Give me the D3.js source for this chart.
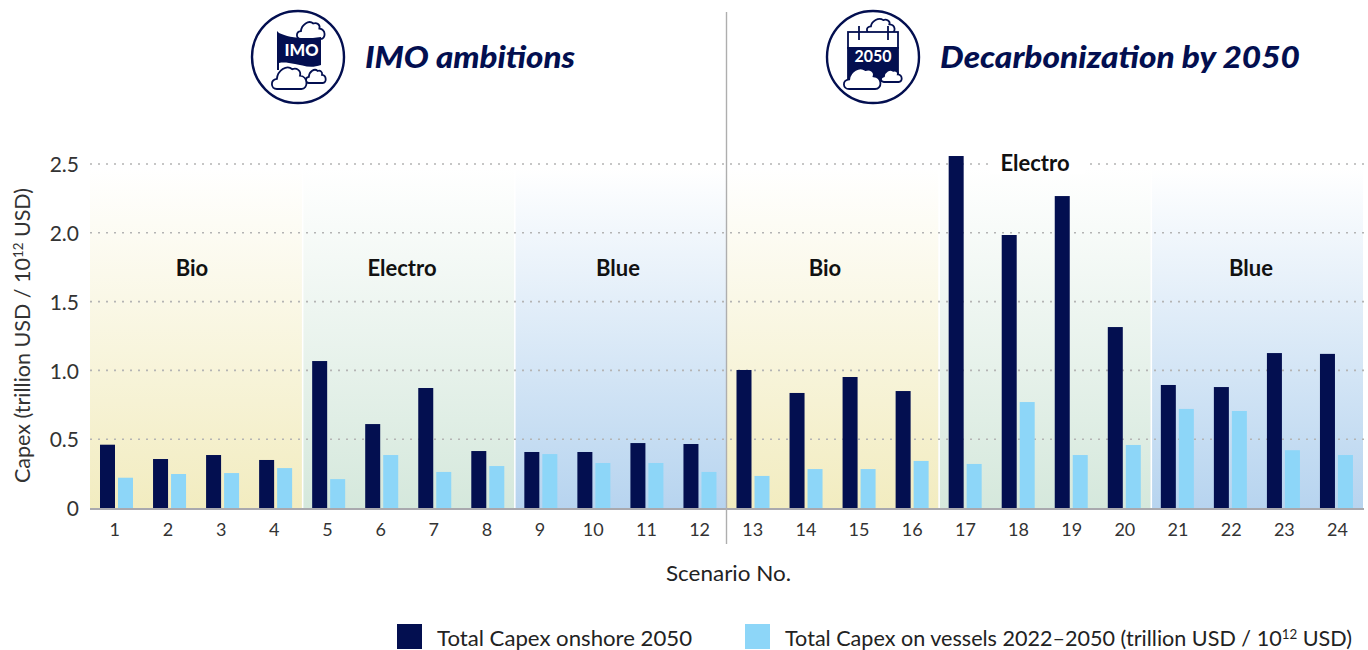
<!DOCTYPE html>
<html>
<head>
<meta charset="utf-8">
<script src="https://cdn.jsdelivr.net/npm/d3@7"></script>
<style>
  html, body { margin: 0; padding: 0; background: #fff; }
  text { font-family: Lato, "Open Sans", sans-serif; }
</style>
</head>
<body>
<div id="chart"></div>
<script>
// data
const scenarios = d3.range(1, 25).map(String);
const onshore = [0.46, 0.356, 0.385, 0.349, 1.068, 0.61, 0.872, 0.414, 0.407, 0.407, 0.472, 0.465,
  1.003, 0.836, 0.952, 0.85, 2.558, 1.984, 2.267, 1.315, 0.894, 0.879, 1.126, 1.12];
const vessels = [0.22, 0.247, 0.254, 0.29, 0.21, 0.385, 0.262, 0.305, 0.392, 0.327, 0.327, 0.262,
  0.233, 0.283, 0.283, 0.342, 0.32, 0.77, 0.385, 0.458, 0.72, 0.705, 0.42, 0.385];
const yTicks = [0, 0.5, 1, 1.5, 2, 2.5];
const groupNames = ["Bio", "Electro", "Blue", "Bio", "Electro", "Blue"];
const groupFirst = ["1", "5", "9", "13", "17", "21"];
const groupLast = ["4", "8", "12", "16", "20", "24"];
const groupKinds = ["bio", "electro", "blue", "bio", "electro", "blue"];
const seriesKeys = ["onshore", "vessels"];

const width = 1368, height = 650;
const navy = "#030f50", sky = "#8dd6f8";
const left = 90, right = 1363, y0 = 508, yTop = 164;

const svg = d3.select("#chart").append("svg")
  .attr("width", width).attr("height", height)
  .style("display", "block");

// scales
const x = d3.scaleBand().domain(scenarios).range([left, right]);
const xSub = d3.scaleBand().domain(seriesKeys).range([10, 43]).paddingInner(3 / 18);
const xLabel = d3.scalePoint().domain(scenarios).range([114.3, 1337]);
const y = d3.scaleLinear().domain([0, 2.5]).range([y0, yTop]);
const kindColor = d3.scaleOrdinal().domain(["bio", "electro", "blue"]).range(["#f2ecc0", "#d5e8dc", "#b7d4ef"]);

// gradients for the background bands
const defs = svg.append("defs");
kindColor.domain().forEach(k => {
  const g = defs.append("linearGradient").attr("id", "grad-" + k)
    .attr("x1", 0).attr("y1", 0).attr("x2", 0).attr("y2", 1);
  g.append("stop").attr("offset", "0%").attr("stop-color", "#fff");
  g.append("stop").attr("offset", "100%").attr("stop-color", kindColor(k));
});

// background bands
svg.append("g").selectAll("rect")
  .data(groupNames)
  .join("rect")
  .attr("x", (d, i) => x(groupFirst[i]))
  .attr("y", 168)
  .attr("width", (d, i) => x(groupLast[i]) + x.bandwidth() - x(groupFirst[i]))
  .attr("height", y0 - 168)
  .attr("fill", (d, i) => `url(#grad-${groupKinds[i]})`)
  .attr("stroke", "none");

// thin white gaps between the bands
svg.append("g").selectAll("line")
  .data(groupFirst.filter(d => d !== "1" && d !== "13"))
  .join("line")
  .attr("x1", d => x(d) + 0.5).attr("x2", d => x(d) + 0.5)
  .attr("y1", 168).attr("y2", y0)
  .attr("stroke", "#fff").attr("stroke-width", 1.5);

// dotted grid
svg.append("g").selectAll("line")
  .data(yTicks.filter(d => d > 0))
  .join("line")
  .attr("x1", left).attr("x2", 1364)
  .attr("y1", d => y(d)).attr("y2", d => y(d))
  .attr("stroke", "#b4b4b4").attr("stroke-width", 1.6)
  .attr("stroke-dasharray", "2 6");

// white patch behind the Electro label that sits on the top gridline
svg.append("rect")
  .attr("x", 990).attr("y", 150).attr("width", 95).attr("height", 24)
  .attr("fill", "#fff");

// bars
const barGroups = svg.append("g").selectAll("g")
  .data(scenarios)
  .join("g")
  .attr("transform", d => `translate(${x(d)},0)`);

barGroups.append("rect")
  .attr("x", xSub("onshore"))
  .attr("y", (d, i) => y(onshore[i]))
  .attr("width", xSub.bandwidth())
  .attr("height", (d, i) => y0 - y(onshore[i]))
  .attr("fill", navy);

barGroups.append("rect")
  .attr("x", xSub("vessels"))
  .attr("y", (d, i) => y(vessels[i]))
  .attr("width", xSub.bandwidth())
  .attr("height", (d, i) => y0 - y(vessels[i]))
  .attr("fill", sky);

// group labels
const labelX = [192, 402, 618, 825, 1035, 1251];
const labelY = [276, 276, 276, 276, 171, 276];

svg.append("g").selectAll("text")
  .data(groupNames)
  .join("text")
  .attr("x", (d, i) => labelX[i])
  .attr("y", (d, i) => labelY[i])
  .attr("text-anchor", "middle")
  .attr("font-size", 22)
  .attr("font-weight", 700)
  .attr("fill", "#111")
  .text(d => d);

// x axis
const xAxis = svg.append("g")
  .attr("transform", `translate(0,${y0})`)
  .call(d3.axisBottom(xLabel).tickSize(0).tickPadding(15));
xAxis.select(".domain").remove();
xAxis.selectAll("text")
  .attr("font-size", 18)
  .attr("fill", "#333")
  .style("font-family", "Lato, sans-serif");

svg.append("line")
  .attr("x1", left).attr("x2", 1364)
  .attr("y1", y0 + 1).attr("y2", y0 + 1)
  .attr("stroke", "#a9a9ae").attr("stroke-width", 1.8);

// y axis
const yAxis = svg.append("g")
  .attr("transform", `translate(${left},0)`)
  .call(d3.axisLeft(y).tickValues(yTicks).tickSize(0).tickPadding(11)
    .tickFormat(d => d === 0 ? "0" : d3.format(".1f")(d)));
yAxis.select(".domain").remove();
yAxis.selectAll("text")
  .attr("font-size", 21)
  .attr("dy", "0.37em")
  .attr("fill", "#333")
  .style("font-family", "Lato, sans-serif");

// axis titles
const yTitle = svg.append("text")
  .attr("transform", "translate(30,335.5) rotate(-90)")
  .attr("text-anchor", "middle")
  .attr("font-size", 21)
  .attr("textLength", 295)
  .attr("lengthAdjust", "spacingAndGlyphs")
  .attr("fill", "#333");
yTitle.append("tspan").text("Capex (trillion USD / 10");
yTitle.append("tspan").attr("dy", -7).attr("font-size", 13).text("12");
yTitle.append("tspan").attr("dy", 7).text(" USD)");

svg.append("text")
  .attr("x", 728.5).attr("y", 581)
  .attr("text-anchor", "middle")
  .attr("font-size", 21)
  .attr("textLength", 125)
  .attr("lengthAdjust", "spacingAndGlyphs")
  .attr("fill", "#222")
  .text("Scenario No.");

// divider between the two panels
svg.append("line")
  .attr("x1", 726.5).attr("x2", 726.5)
  .attr("y1", 12).attr("y2", 544)
  .attr("stroke", "#aeaeae").attr("stroke-width", 1.4);

// titles
svg.append("text")
  .attr("x", 365).attr("y", 68)
  .attr("font-size", 30).attr("font-weight", 900).attr("font-style", "italic")
  .attr("textLength", 210).attr("lengthAdjust", "spacingAndGlyphs")
  .attr("fill", navy)
  .text("IMO ambitions");
svg.append("text")
  .attr("x", 940).attr("y", 68)
  .attr("font-size", 30).attr("font-weight", 900).attr("font-style", "italic")
  .attr("textLength", 360).attr("lengthAdjust", "spacingAndGlyphs")
  .attr("fill", navy)
  .text("Decarbonization by 2050");

// icons
function cloud(g, x0, y0, w, h) {
  const px = (a, b) => `${x0 + a * w} ${y0 + b * h}`;
  g.append("path")
    .attr("d", `M${px(.14, 1)} C${px(-.04, 1)} ${px(-.06, .6)} ${px(.14, .56)}`
      + ` C${px(.16, .2)} ${px(.42, -.08)} ${px(.58, .14)}`
      + ` C${px(.7, .06)} ${px(.84, .2)} ${px(.8, .42)}`
      + ` C${px(1.04, .46)} ${px(1.04, 1)} ${px(.84, 1)} Z`)
    .attr("fill", "#fff").attr("stroke", navy).attr("stroke-width", 1.8);
}

function iconRing(cx, cy) {
  const g = svg.append("g").attr("transform", `translate(${cx},${cy})`);
  g.append("circle").attr("r", 46).attr("fill", "#fff")
    .attr("stroke", navy).attr("stroke-width", 2.4);
  return g;
}

const imo = iconRing(298, 57);
cloud(imo, -1, -36, 28, 18);
imo.append("path")
  .attr("d", "M-21 -26 L-19 -24 C-10 -20 3 -17 23 -20 L23 8 C12 12 4 8 -3 7 C-9 6 -14 5 -19 6 L-19 13 L-21 13 Z")
  .attr("fill", navy);
imo.append("text")
  .attr("x", 3.5).attr("y", -1)
  .attr("text-anchor", "middle")
  .attr("font-size", 16).attr("font-weight", 900)
  .attr("textLength", 34).attr("lengthAdjust", "spacingAndGlyphs")
  .attr("fill", "#fff")
  .text("IMO");
cloud(imo, 8, 12, 20, 14);
cloud(imo, -26, 9, 35, 23);

const cal = iconRing(873, 57);
cloud(cal, -6, -39, 28, 15);
cal.append("rect")
  .attr("x", -25).attr("y", -25).attr("width", 50).attr("height", 16)
  .attr("fill", "#fff").attr("stroke", navy).attr("stroke-width", 1.8);
cal.append("rect")
  .attr("x", -25.9).attr("y", -10).attr("width", 51.8).attr("height", 34)
  .attr("fill", navy);
cal.selectAll("line.ring")
  .data([-14, 15])
  .join("line")
  .attr("class", "ring")
  .attr("x1", d => d).attr("x2", d => d)
  .attr("y1", -31).attr("y2", -17)
  .attr("stroke", navy).attr("stroke-width", 1.8);
cal.append("text")
  .attr("x", 0).attr("y", 5)
  .attr("text-anchor", "middle")
  .attr("font-size", 17).attr("font-weight", 700)
  .attr("textLength", 37).attr("lengthAdjust", "spacingAndGlyphs")
  .attr("fill", "#fff")
  .text("2050");
cloud(cal, 8, 12, 21, 13);
cloud(cal, -29, 10, 37, 22);

// legend
svg.append("rect").attr("x", 397).attr("y", 624).attr("width", 25).attr("height", 25).attr("fill", navy);
svg.append("text")
  .attr("x", 437).attr("y", 646)
  .attr("font-size", 21).attr("fill", "#222")
  .attr("textLength", 255).attr("lengthAdjust", "spacingAndGlyphs")
  .text("Total Capex onshore 2050");

svg.append("rect").attr("x", 745).attr("y", 624).attr("width", 25).attr("height", 25).attr("fill", sky);
const legend2 = svg.append("text")
  .attr("x", 785).attr("y", 646)
  .attr("font-size", 21).attr("fill", "#222")
  .attr("textLength", 567).attr("lengthAdjust", "spacingAndGlyphs");
legend2.append("tspan").text("Total Capex on vessels 2022\u20132050 (trillion USD / 10");
legend2.append("tspan").attr("dy", -7).attr("font-size", 13).text("12");
legend2.append("tspan").attr("dy", 7).text(" USD)");
</script>
</body>
</html>
